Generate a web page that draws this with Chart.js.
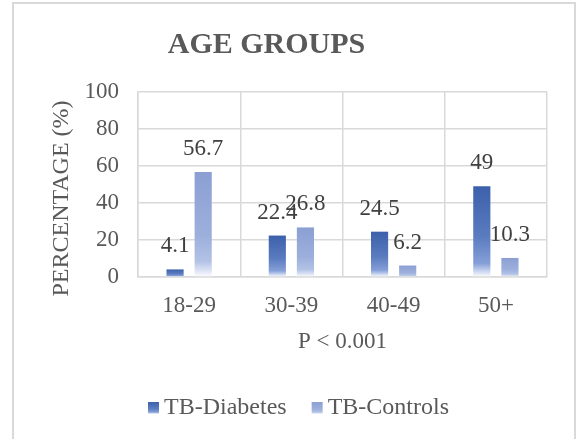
<!DOCTYPE html>
<html>
<head>
<meta charset="utf-8">
<script src="https://cdn.jsdelivr.net/npm/chart.js@4/dist/chart.umd.min.js"></script>
<style>
html,body{margin:0;padding:0;background:#fff;}
#wrap{position:relative;width:577px;height:439px;}
</style>
</head>
<body>
<div id="wrap"><canvas id="c" width="577" height="439"></canvas></div>
<script>
const categories = ["18-29", "30-39", "40-49", "50+"];
const tbDiabetes = [4.1, 22.4, 24.5, 49];
const tbControls = [56.7, 26.8, 6.2, 10.3];
const seriesNames = ["TB-Diabetes", "TB-Controls"];
const chartTitle = "AGE GROUPS";
const yTitle = "PERCENTAGE (%)";
const xTitle = "P < 0.001";

const FONT = "'Liberation Serif', 'Times New Roman', serif";
const darkStops = [[0, "#3C60AB"], [0.55, "#5A7BBF"], [0.85, "#859FD7"], [0.93, "#C4D1EE"], [1, "#FFFFFF"]];
const lightStops = [[0, "#8C9FD3"], [0.6, "#9CAFDC"], [0.85, "#B2C2E6"], [0.94, "#DCE3F4"], [1, "#FFFFFF"]];

function gradFill(stops) {
  return function (ctx) {
    const chart = ctx.chart;
    const y = chart.scales && chart.scales.y;
    if (!y || ctx.type !== 'data') return stops[0][1];
    const top = y.getPixelForValue(ctx.raw);
    const base = y.getPixelForValue(0);
    if (!isFinite(top) || !isFinite(base) || base - top < 0.5) return stops[0][1];
    const g = chart.ctx.createLinearGradient(0, top, 0, base);
    stops.forEach(s => g.addColorStop(s[0], s[1]));
    return g;
  };
}

const frame = {
  id: 'frame',
  beforeDraw(chart) {
    const c = chart.ctx;
    c.save();
    c.fillStyle = '#fff';
    c.fillRect(0, 0, chart.width, chart.height);
    c.strokeStyle = '#d9d9d9';
    c.lineWidth = 2;
    c.strokeRect(13, 3, 562, 460);
    // chart title
    c.fillStyle = '#595959';
    c.font = "bold 30px " + FONT;
    c.textAlign = 'center';
    c.textBaseline = 'alphabetic';
    c.fillText(chartTitle, 266.5, 53);
    // y axis title
    c.translate(68, 198.5);
    c.rotate(-Math.PI / 2);
    c.font = "24px " + FONT;
    c.fillText(yTitle, 0, 0);
    c.restore();
  }
};

const barLabels = {
  id: 'barLabels',
  afterDatasetsDraw(chart) {
    const c = chart.ctx;
    c.save();
    c.font = "23px " + FONT;
    c.fillStyle = '#404040';
    c.textAlign = 'center';
    c.textBaseline = 'middle';
    chart.data.datasets.forEach((ds, di) => {
      const meta = chart.getDatasetMeta(di);
      meta.data.forEach((el, i) => {
        c.fillText(String(ds.data[i]), el.x, el.y - 23);
      });
    });
    c.restore();
  }
};

const legendBoxes = {
  id: 'legendBoxes',
  afterDraw(chart) {
    const lg = chart.legend;
    if (!lg || !lg.legendHitBoxes) return;
    const c = chart.ctx;
    const stopsArr = [darkStops, lightStops];
    lg.legendHitBoxes.forEach((hb, i) => {
      const bw = 11, bh = 12;
      const x = hb.left, yTop = hb.top + (hb.height - bh) / 2;
      c.save();
      c.fillStyle = '#fff';
      c.fillRect(x - 1, yTop - 1, bw + 2, bh + 2);
      const g = c.createLinearGradient(0, yTop, 0, yTop + bh);
      stopsArr[i].forEach(s => g.addColorStop(s[0], s[1]));
      c.fillStyle = g;
      c.fillRect(x, yTop, bw, bh);
      c.restore();
    });
  }
};

new Chart(document.getElementById('c'), {
  type: 'bar',
  data: {
    labels: categories,
    datasets: [
      { label: seriesNames[0], data: tbDiabetes, backgroundColor: gradFill(darkStops), borderWidth: 0,
        categoryPercentage: 0.55, barPercentage: 0.61 },
      { label: seriesNames[1], data: tbControls, backgroundColor: gradFill(lightStops), borderWidth: 0,
        categoryPercentage: 0.55, barPercentage: 0.61 }
    ]
  },
  plugins: [frame, barLabels, legendBoxes],
  options: {
    responsive: false,
    animation: false,
    devicePixelRatio: 1,
    layout: { padding: { left: 50, right: 30, top: 92, bottom: 9 } },
    plugins: {
      title: { display: false },
      legend: {
        position: 'bottom',
        labels: {
          color: '#595959', font: { family: FONT, size: 24 },
          boxWidth: 4, boxHeight: 12, padding: 25
        }
      },
      tooltip: { enabled: false }
    },
    scales: {
      x: {
        afterFit(s) { s.height = 94; },
        grid: { color: '#d9d9d9', lineWidth: 1.5, drawTicks: false, offset: true },
        border: { color: '#d9d9d9', width: 1.5 },
        ticks: { color: '#595959', font: { family: FONT, size: 23 }, padding: 15 },
        title: { display: true, text: xTitle, color: '#595959', font: { family: FONT, size: 23 }, padding: { top: 0, bottom: 15 } }
      },
      y: {
        min: 0, max: 100,
        afterFit(s) { s.width = 88; },
        grid: { color: '#d9d9d9', lineWidth: 1.5, drawTicks: false },
        border: { color: '#d9d9d9', width: 1.5 },
        ticks: { stepSize: 20, color: '#595959', font: { family: FONT, size: 23 }, padding: 19 },
        title: { display: false }
      }
    }
  }
});
</script>
</body>
</html>
